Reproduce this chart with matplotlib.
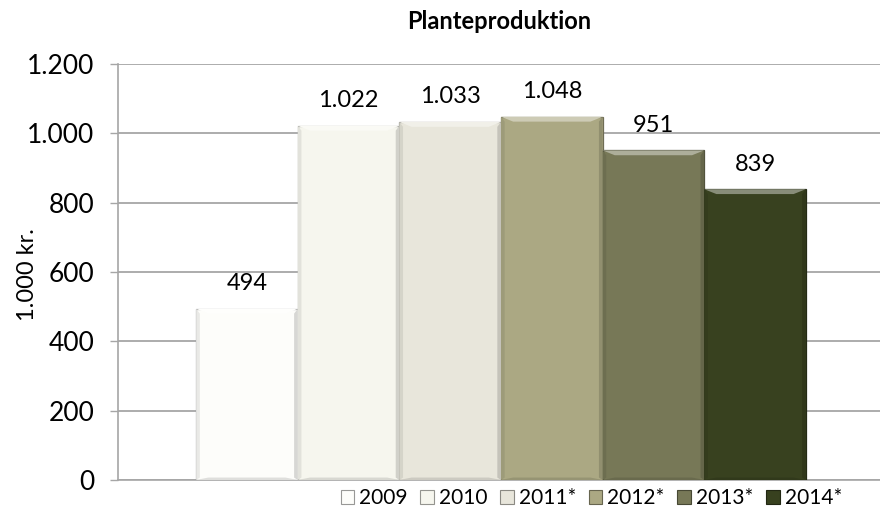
import matplotlib
matplotlib.use("Agg")
import matplotlib.pyplot as plt
from matplotlib.patches import Polygon
from matplotlib.colors import to_rgb

plt.rcParams["font.family"] = ["Lato", "DejaVu Sans"]

years = ["2009", "2010", "2011*", "2012*", "2013*", "2014*"]
values = [494, 1022, 1033, 1048, 951, 839]
labels = ["494", "1.022", "1.033", "1.048", "951", "839"]
colors = ["#FDFDFA", "#F6F6EE", "#E8E6DB", "#ABA883", "#777857", "#38411F"]
yticks = [0, 200, 400, 600, 800, 1000, 1200]
ytick_labels = ["0", "200", "400", "600", "800", "1.000", "1.200"]


def shade(c, f):
    r, g, b = to_rgb(c)
    if f < 1:
        return (r * f, g * f, b * f)
    return tuple(x + (1 - x) * (f - 1) for x in (r, g, b))


fig = plt.figure(figsize=(8.8, 5.16), dpi=100)
ax = fig.add_axes([0.134, 0.0698, 0.866, 0.806])

n = len(values)
pos = [i - (n - 1) / 2 for i in range(n)]
bars = ax.bar(pos, values, width=1.0, color=colors, edgecolor=[shade(c, 0.65) for c in colors],
              linewidth=0.9, zorder=3)

# bevel: lighter band on top, darker rim at the sides and bottom
for b, c in zip(bars, colors):
    x0, w, h = b.get_x(), b.get_width(), b.get_height()
    dx, dy = 0.12, 14
    top = Polygon([(x0, h), (x0 + w, h), (x0 + w - dx, h - dy), (x0 + dx, h - dy)],
                  closed=True, facecolor=shade(c, 1.4), edgecolor="none", zorder=4)
    bot = Polygon([(x0, 0), (x0 + w, 0), (x0 + w - dx, dy * 0.5), (x0 + dx, dy * 0.5)],
                  closed=True, facecolor=shade(c, 0.88), edgecolor="none", zorder=4)
    left = Polygon([(x0, 0), (x0 + dx * 0.3, dy * 0.5), (x0 + dx * 0.3, h - dy), (x0, h)],
                   closed=True, facecolor=shade(c, 0.92), edgecolor="none", zorder=4)
    right = Polygon([(x0 + w, 0), (x0 + w - dx * 0.3, dy * 0.5), (x0 + w - dx * 0.3, h - dy), (x0 + w, h)],
                    closed=True, facecolor=shade(c, 0.85), edgecolor="none", zorder=4)
    for p in (top, bot, left, right):
        ax.add_patch(p)

for b, lab in zip(bars, labels):
    ax.annotate(lab, (b.get_x() + b.get_width() / 2, b.get_height()),
                xytext=(0, 18), textcoords="offset points", ha="center", va="center",
                fontsize=17, zorder=5)

ax.set_xlim(-3.77, 3.73)
ax.set_ylim(0, 1200)
ax.set_yticks(yticks)
ax.set_yticklabels(ytick_labels, fontsize=19)
ax.set_xticks([])
ax.yaxis.grid(True, color="#A6A6A6", linewidth=1.3, zorder=0)
ax.set_axisbelow(True)
ax.tick_params(axis="y", length=6, width=1, color="#A6A6A6", pad=11)
for s in ("top", "right"):
    ax.spines[s].set_visible(False)
ax.spines["left"].set_color("#A6A6A6")
ax.spines["bottom"].set_color("#A6A6A6")
ax.spines["left"].set_linewidth(1.2)
ax.spines["bottom"].set_linewidth(1.2)
ax.set_ylabel("1.000 kr.", fontsize=17)
ax.yaxis.set_label_coords(-0.105, 0.493)
ax.set_title("Planteproduktion", fontsize=17, fontweight="bold", pad=25, x=0.5)

handles = [plt.Rectangle((0, 0), 1, 1, facecolor=c, edgecolor=shade(c, 0.6), linewidth=0.8)
           for c in colors]
fig.legend(handles, years, loc="center", bbox_to_anchor=(0.672, 0.034), ncol=n,
           frameon=False, fontsize=15, handlelength=0.65, handleheight=0.65,
           handletextpad=0.25, columnspacing=0.6)

fig.savefig("out.png", dpi=100)
